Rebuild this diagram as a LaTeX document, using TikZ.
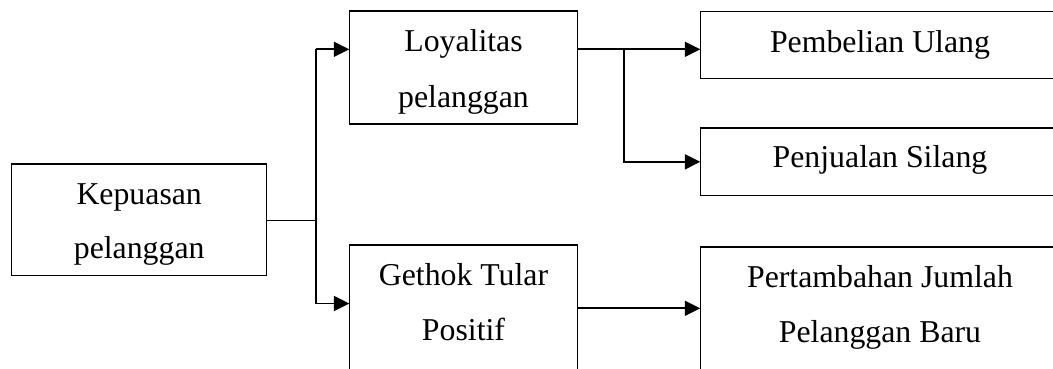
\documentclass[tikz,border=0pt]{standalone}
\usepackage{fontspec}
\setmainfont{Liberation Serif}
\usetikzlibrary{arrows.meta}
\begin{document}
\begin{tikzpicture}[x=1bp,y=-1bp,
  box/.style={draw, line width=1.5bp, inner sep=0pt, outer sep=0pt, anchor=north west},
  txt/.style={anchor=base, inner sep=0pt, font=\fontsize{31.8bp}{38bp}\selectfont},
  conn/.style={line width=1.6bp},
  thinconn/.style={line width=1.1bp},
  arr/.style={line width=1.9bp, -{Triangle[length=15.5bp,width=15bp]}}]
\useasboundingbox (0,0) rectangle (1053,368);
\clip (0,0) rectangle (1053,368);
% boxes
\node[box, minimum width=255bp, minimum height=111.7bp] (k) at (11.7,164) {};
\node[box, minimum width=228.4bp, minimum height=113bp] (l) at (349.3,11) {};
\node[box, minimum width=228.4bp, minimum height=140bp] (g) at (349.3,245) {};
\node[box, minimum width=360bp, minimum height=67bp] (p1) at (700.3,11.7) {};
\node[box, minimum width=360bp, minimum height=67.7bp] (p2) at (700.3,128) {};
\node[box, minimum width=360bp, minimum height=140bp] (p3) at (700.3,247) {};
% texts
\node[txt] (kt1) at (139.2,204) {Kepuasan};
\node[txt] (kt2) at (139.2,258) {pelanggan};
\node[txt] (lt1) at (463.5,51.5) {Loyalitas};
\node[txt] (lt2) at (463.5,107) {pelanggan};
\node[txt] (gt1) at (463.5,285) {Gethok Tular};
\node[txt] (gt2) at (463.5,340) {Positif};
\node[txt] (p1t) at (880,52) {Pembelian Ulang};
\node[txt] (p2t) at (880,167) {Penjualan Silang};
\node[txt] (p3t1) at (880,287) {Pertambahan Jumlah};
\node[txt] (p3t2) at (880,342) {Pelanggan Baru};
% connectors
\coordinate (j1) at (316,220.5);
\coordinate (j1top) at (316,49.3);
\coordinate (j1bot) at (316,303.5);
\coordinate (j2) at (624.3,49.3);
\coordinate (ga) at (577.7,308.3);
\draw[thinconn] (k.east |- j1) -- (j1);
\draw[conn] (j1top) -- (j1bot);
\draw[arr] (j1top) -- (l.west |- j1top);
\draw[arr] (j1bot) -- (g.west |- j1bot);
\draw[arr] (l.east |- j2) -- (p1.west |- j2);
\draw[arr] (j2) |- (p2.west);
\draw[arr] (ga) -- (p3.west |- ga);
\end{tikzpicture}
\end{document}
